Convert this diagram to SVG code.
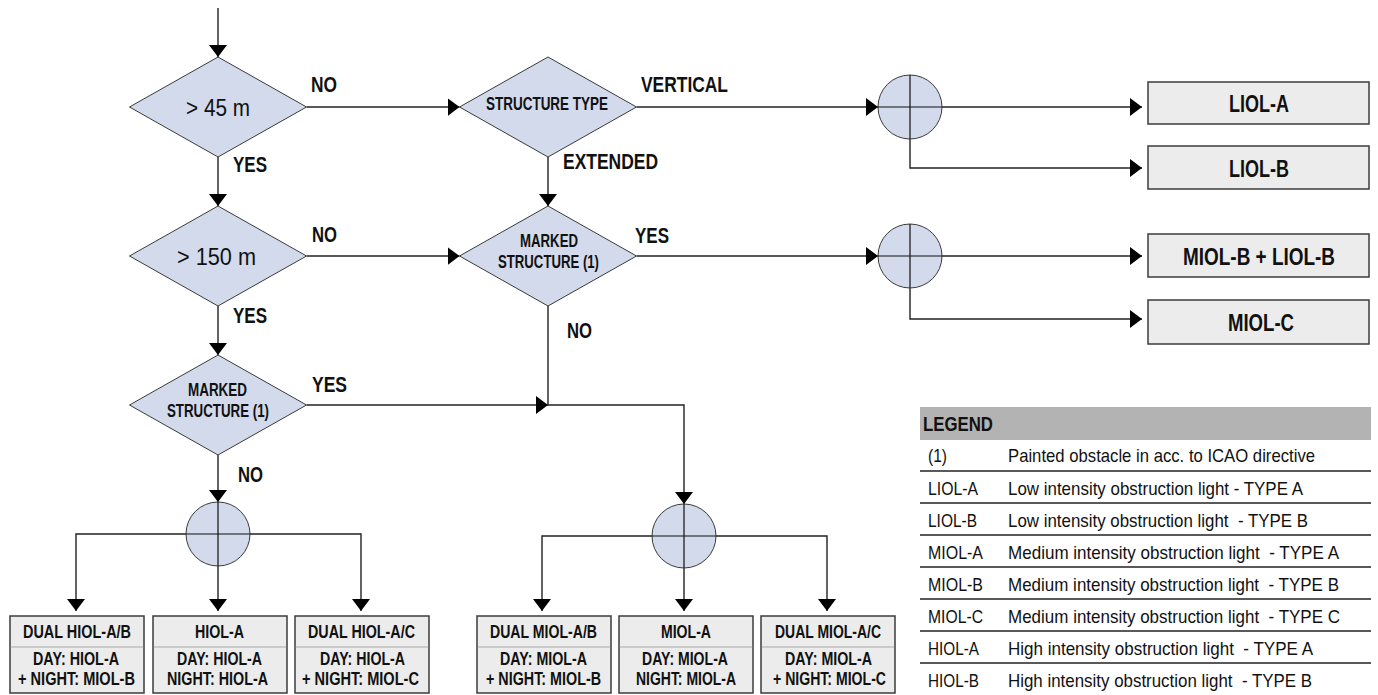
<svg xmlns="http://www.w3.org/2000/svg" width="1378" height="695" viewBox="0 0 1378 695">
<defs>
<marker id="ah" markerUnits="userSpaceOnUse" markerWidth="12" markerHeight="18" refX="12" refY="9" orient="auto" viewBox="0 0 12 18"><path d="M0,0 L12,9 L0,18 z" fill="#000"/></marker>
<style>
.d{fill:#d3daec;stroke:#3a3a3a;stroke-width:1}
.x{fill:none;stroke:#111;stroke-width:1.2}
.box{fill:#ececec;stroke:#3c3c3c;stroke-width:1.5}
.div{stroke:#a8a8a8;stroke-width:1}
.ln{fill:none;stroke:#222;stroke-width:1.4}
.t{font-family:"Liberation Sans Narrow","Liberation Sans",Arial,sans-serif;fill:#111}
.b{font-weight:bold}
.lbl{font-size:22px}
.dt{font-size:23px}
.st{font-size:18px}
.rb{font-size:23px}
.bb{font-size:19px}
.lg{font-size:19px}
.lh{font-size:21px}
.sep{stroke:#222;stroke-width:1.3}
</style>
</defs>

<g id="connectors">
<path class="ln" d="M218,8 V57" marker-end="url(#ah)"/>
<path class="ln" d="M306.5,107 H459.5" marker-end="url(#ah)"/>
<path class="ln" d="M218,157 V206" marker-end="url(#ah)"/>
<path class="ln" d="M548,157 V206" marker-end="url(#ah)"/>
<path class="ln" d="M636.5,107 H878" marker-end="url(#ah)"/>
<path class="ln" d="M942,107 H1142" marker-end="url(#ah)"/>
<path class="ln" d="M910,139 V168 H1142" marker-end="url(#ah)"/>
<path class="ln" d="M306.5,256 H459.5" marker-end="url(#ah)"/>
<path class="ln" d="M636.5,256 H878" marker-end="url(#ah)"/>
<path class="ln" d="M942,256 H1142" marker-end="url(#ah)"/>
<path class="ln" d="M910,288 V319 H1142" marker-end="url(#ah)"/>
<path class="ln" d="M218,306 V355" marker-end="url(#ah)"/>
<path class="ln" d="M306.5,405 H548" marker-end="url(#ah)"/>
<path class="ln" d="M548,306 V405 H684 V504" marker-end="url(#ah)"/>
<path class="ln" d="M218,455 V502" marker-end="url(#ah)"/>
<path class="ln" d="M186,534 H76 V611" marker-end="url(#ah)"/>
<path class="ln" d="M250,534 H361 V611" marker-end="url(#ah)"/>
<path class="ln" d="M218,566 V611" marker-end="url(#ah)"/>
<path class="ln" d="M652,536 H542 V611" marker-end="url(#ah)"/>
<path class="ln" d="M716,536 H827 V611" marker-end="url(#ah)"/>
<path class="ln" d="M684,568 V611" marker-end="url(#ah)"/>
</g>

<g id="labels" class="t b lbl">
<text x="311" y="92" textLength="26" lengthAdjust="spacingAndGlyphs">NO</text>
<text x="233" y="172" textLength="34" lengthAdjust="spacingAndGlyphs">YES</text>
<text x="312" y="242" textLength="25" lengthAdjust="spacingAndGlyphs">NO</text>
<text x="233" y="323" textLength="34" lengthAdjust="spacingAndGlyphs">YES</text>
<text x="312" y="392" textLength="35" lengthAdjust="spacingAndGlyphs">YES</text>
<text x="238" y="482" textLength="25" lengthAdjust="spacingAndGlyphs">NO</text>
<text x="641" y="92" textLength="87" lengthAdjust="spacingAndGlyphs">VERTICAL</text>
<text x="563" y="169" textLength="95" lengthAdjust="spacingAndGlyphs">EXTENDED</text>
<text x="635" y="243" textLength="34" lengthAdjust="spacingAndGlyphs">YES</text>
<text x="567" y="338" textLength="25" lengthAdjust="spacingAndGlyphs">NO</text>
</g>

<g id="d-45">
<polygon class="d" points="218,57 306.5,107 218,157 129.5,107"/>
<text class="t dt" x="186" y="116" textLength="64" lengthAdjust="spacingAndGlyphs">&gt; 45 m</text>
</g>
<g id="d-150">
<polygon class="d" points="218,206 306.5,256 218,306 129.5,256"/>
<text class="t dt" x="177" y="265" textLength="79" lengthAdjust="spacingAndGlyphs">&gt; 150 m</text>
</g>
<g id="d-marked-left">
<polygon class="d" points="218,355 306.5,405 218,455 129.5,405"/>
<text class="t b st" x="188" y="396" textLength="59" lengthAdjust="spacingAndGlyphs">MARKED</text>
<text class="t b st" x="167" y="417" textLength="102" lengthAdjust="spacingAndGlyphs">STRUCTURE (1)</text>
</g>
<g id="d-structure-type">
<polygon class="d" points="548,57 636.5,107 548,157 459.5,107"/>
<text class="t b st" x="486" y="110" textLength="122" lengthAdjust="spacingAndGlyphs">STRUCTURE TYPE</text>
</g>
<g id="d-marked-right">
<polygon class="d" points="548,206 636.5,256 548,306 459.5,256"/>
<text class="t b st" x="520" y="247" textLength="58" lengthAdjust="spacingAndGlyphs">MARKED</text>
<text class="t b st" x="498" y="268" textLength="101" lengthAdjust="spacingAndGlyphs">STRUCTURE (1)</text>
</g>

<g id="j-top-right">
<circle class="d" cx="910" cy="107" r="32"/>
<path class="x" d="M878,107 H942 M910,75 V139"/>
</g>
<g id="j-mid-right">
<circle class="d" cx="910" cy="256" r="32"/>
<path class="x" d="M878,256 H942 M910,224 V288"/>
</g>
<g id="j-bottom-left">
<circle class="d" cx="218" cy="534" r="32"/>
<path class="x" d="M186,534 H250 M218,502 V566"/>
</g>
<g id="j-bottom-mid">
<circle class="d" cx="684" cy="536" r="32"/>
<path class="x" d="M652,536 H716 M684,504 V568"/>
</g>

<g id="r-liol-a">
<rect class="box" x="1148" y="82" width="221" height="42"/>
<text class="t b rb" x="1229" y="112" textLength="60" lengthAdjust="spacingAndGlyphs">LIOL-A</text>
</g>
<g id="r-liol-b">
<rect class="box" x="1148" y="146" width="221" height="43"/>
<text class="t b rb" x="1229" y="177" textLength="60" lengthAdjust="spacingAndGlyphs">LIOL-B</text>
</g>
<g id="r-miol-b-liol-b">
<rect class="box" x="1148" y="234" width="221" height="43"/>
<text class="t b rb" x="1183" y="265" textLength="152" lengthAdjust="spacingAndGlyphs">MIOL-B + LIOL-B</text>
</g>
<g id="r-miol-c">
<rect class="box" x="1148" y="300" width="221" height="44"/>
<text class="t b rb" x="1228" y="331" textLength="66" lengthAdjust="spacingAndGlyphs">MIOL-C</text>
</g>

<g id="b-dual-hiol-ab">
<rect class="box" x="10" y="616" width="134" height="77"/>
<line class="div" x1="10.75" y1="647" x2="143.25" y2="647"/>
<text class="t b bb" x="23" y="638" textLength="108" lengthAdjust="spacingAndGlyphs">DUAL HIOL-A/B</text>
<text class="t b bb" x="33" y="665" textLength="86" lengthAdjust="spacingAndGlyphs">DAY: HIOL-A</text>
<text class="t b bb" x="18" y="685" textLength="117" lengthAdjust="spacingAndGlyphs">+ NIGHT: MIOL-B</text>
</g>
<g id="b-hiol-a">
<rect class="box" x="153" y="616" width="134" height="77"/>
<line class="div" x1="153.75" y1="647" x2="286.25" y2="647"/>
<text class="t b bb" x="195" y="638" textLength="49" lengthAdjust="spacingAndGlyphs">HIOL-A</text>
<text class="t b bb" x="177" y="665" textLength="85" lengthAdjust="spacingAndGlyphs">DAY: HIOL-A</text>
<text class="t b bb" x="167" y="685" textLength="101" lengthAdjust="spacingAndGlyphs">NIGHT: HIOL-A</text>
</g>
<g id="b-dual-hiol-ac">
<rect class="box" x="295" y="616" width="134" height="77"/>
<line class="div" x1="295.75" y1="647" x2="428.25" y2="647"/>
<text class="t b bb" x="308" y="638" textLength="107" lengthAdjust="spacingAndGlyphs">DUAL HIOL-A/C</text>
<text class="t b bb" x="320" y="665" textLength="85" lengthAdjust="spacingAndGlyphs">DAY: HIOL-A</text>
<text class="t b bb" x="302" y="685" textLength="117" lengthAdjust="spacingAndGlyphs">+ NIGHT: MIOL-C</text>
</g>
<g id="b-dual-miol-ab">
<rect class="box" x="477" y="616" width="134" height="77"/>
<line class="div" x1="477.75" y1="647" x2="610.25" y2="647"/>
<text class="t b bb" x="490" y="638" textLength="107" lengthAdjust="spacingAndGlyphs">DUAL MIOL-A/B</text>
<text class="t b bb" x="500" y="665" textLength="87" lengthAdjust="spacingAndGlyphs">DAY: MIOL-A</text>
<text class="t b bb" x="486" y="685" textLength="115" lengthAdjust="spacingAndGlyphs">+ NIGHT: MIOL-B</text>
</g>
<g id="b-miol-a">
<rect class="box" x="619" y="616" width="134" height="77"/>
<line class="div" x1="619.75" y1="647" x2="752.25" y2="647"/>
<text class="t b bb" x="661" y="638" textLength="50" lengthAdjust="spacingAndGlyphs">MIOL-A</text>
<text class="t b bb" x="642" y="665" textLength="86" lengthAdjust="spacingAndGlyphs">DAY: MIOL-A</text>
<text class="t b bb" x="636" y="685" textLength="100" lengthAdjust="spacingAndGlyphs">NIGHT: MIOL-A</text>
</g>
<g id="b-dual-miol-ac">
<rect class="box" x="761" y="616" width="134" height="77"/>
<line class="div" x1="761.75" y1="647" x2="894.25" y2="647"/>
<text class="t b bb" x="775" y="638" textLength="106" lengthAdjust="spacingAndGlyphs">DUAL MIOL-A/C</text>
<text class="t b bb" x="785" y="665" textLength="87" lengthAdjust="spacingAndGlyphs">DAY: MIOL-A</text>
<text class="t b bb" x="773" y="685" textLength="113" lengthAdjust="spacingAndGlyphs">+ NIGHT: MIOL-C</text>
</g>

<g id="legend">
<rect x="920" y="407" width="451" height="33" fill="#b3b3b3"/>
<text class="t b lh" x="923" y="431" textLength="70" lengthAdjust="spacingAndGlyphs">LEGEND</text>
<g class="sep">
<line x1="920" y1="471" x2="1371" y2="471"/>
<line x1="920" y1="503" x2="1371" y2="503"/>
<line x1="920" y1="535" x2="1371" y2="535"/>
<line x1="920" y1="567" x2="1371" y2="567"/>
<line x1="920" y1="599" x2="1371" y2="599"/>
<line x1="920" y1="631" x2="1371" y2="631"/>
<line x1="920" y1="663" x2="1371" y2="663"/>
</g>
<g class="t lg">
<text x="928" y="462" textLength="19" lengthAdjust="spacingAndGlyphs">(1)</text>
<text x="1008" y="462" textLength="307" lengthAdjust="spacingAndGlyphs">Painted obstacle in acc. to ICAO directive</text>
<text x="928" y="495" textLength="50" lengthAdjust="spacingAndGlyphs">LIOL-A</text>
<text x="1008" y="495" textLength="295" lengthAdjust="spacingAndGlyphs">Low intensity obstruction light - TYPE A</text>
<text x="928" y="527" textLength="49" lengthAdjust="spacingAndGlyphs">LIOL-B</text>
<text x="1008" y="527" textLength="300" lengthAdjust="spacingAndGlyphs" xml:space="preserve">Low intensity obstruction light  - TYPE B</text>
<text x="928" y="559" textLength="55" lengthAdjust="spacingAndGlyphs">MIOL-A</text>
<text x="1008" y="559" textLength="331" lengthAdjust="spacingAndGlyphs" xml:space="preserve">Medium intensity obstruction light  - TYPE A</text>
<text x="928" y="591" textLength="55" lengthAdjust="spacingAndGlyphs">MIOL-B</text>
<text x="1008" y="591" textLength="331" lengthAdjust="spacingAndGlyphs" xml:space="preserve">Medium intensity obstruction light  - TYPE B</text>
<text x="928" y="623" textLength="55" lengthAdjust="spacingAndGlyphs">MIOL-C</text>
<text x="1008" y="623" textLength="332" lengthAdjust="spacingAndGlyphs" xml:space="preserve">Medium intensity obstruction light  - TYPE C</text>
<text x="928" y="655" textLength="51" lengthAdjust="spacingAndGlyphs">HIOL-A</text>
<text x="1008" y="655" textLength="305" lengthAdjust="spacingAndGlyphs" xml:space="preserve">High intensity obstruction light  - TYPE A</text>
<text x="928" y="687" textLength="51" lengthAdjust="spacingAndGlyphs">HIOL-B</text>
<text x="1008" y="687" textLength="304" lengthAdjust="spacingAndGlyphs" xml:space="preserve">High intensity obstruction light  - TYPE B</text>
</g>
</g>
</svg>
